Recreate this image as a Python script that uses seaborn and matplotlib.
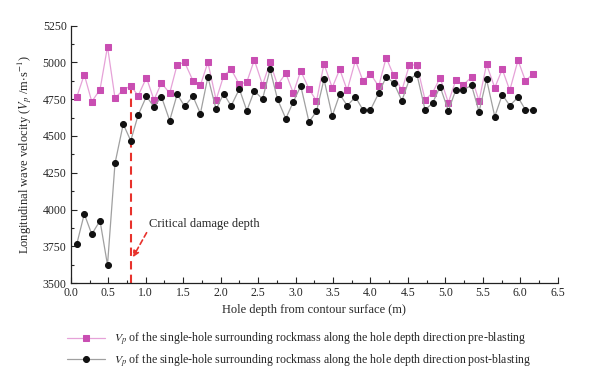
import matplotlib
matplotlib.use("Agg")
import matplotlib.pyplot as plt
import seaborn as sns
from matplotlib.ticker import MultipleLocator

# Hole depth positions (m)
depth = [0.08, 0.18, 0.28, 0.39, 0.49, 0.59, 0.70, 0.80, 0.90, 1.01,
         1.11, 1.21, 1.32, 1.42, 1.52, 1.63, 1.73, 1.83, 1.94, 2.04,
         2.14, 2.25, 2.35, 2.45, 2.56, 2.66, 2.76, 2.87, 2.97, 3.07,
         3.18, 3.28, 3.38, 3.49, 3.59, 3.69, 3.80, 3.90, 4.00, 4.11,
         4.21, 4.31, 4.42, 4.52, 4.62, 4.73, 4.83, 4.93, 5.04, 5.14,
         5.24, 5.35, 5.45, 5.55, 5.66, 5.76, 5.86, 5.97, 6.07, 6.17]

# Vp pre-blasting (m/s)
vp_pre = [4765, 4917, 4733, 4815, 5107, 4758, 4813, 4840, 4774, 4896,
          4745, 4860, 4790, 4985, 5000, 4876, 4844, 5000, 4745, 4908,
          4953, 4851, 4867, 5016, 4846, 5000, 4846, 4926, 4792, 4942,
          4819, 4738, 4989, 4828, 4953, 4810, 5014, 4874, 4923, 4837,
          5032, 4912, 4810, 4982, 4982, 4745, 4794, 4896, 4727, 4880,
          4849, 4899, 4738, 4987, 4828, 4953, 4810, 5014, 4874, 4923]

# Vp post-blasting (m/s)
vp_post = [3767, 3971, 3833, 3925, 3624, 4314, 4581, 4468, 4643, 4770,
           4697, 4767, 4605, 4783, 4702, 4770, 4652, 4901, 4681, 4788,
           4704, 4819, 4672, 4806, 4751, 4953, 4749, 4618, 4731, 4840,
           4595, 4668, 4885, 4636, 4783, 4706, 4765, 4677, 4677, 4790,
           4901, 4862, 4740, 4885, 4919, 4677, 4724, 4835, 4672, 4813,
           4813, 4844, 4665, 4885, 4632, 4781, 4706, 4763, 4677, 4677]

critical_depth = 0.8
critical_top = 4830
arrow_tip = (0.81, 3660)
arrow_start = (1.03, 3860)

x_ticks = [0.0, 0.5, 1.0, 1.5, 2.0, 2.5, 3.0, 3.5, 4.0, 4.5, 5.0, 5.5, 6.0, 6.5]
y_ticks = [3500, 3750, 4000, 4250, 4500, 4750, 5000, 5250]

sns.set_theme(style="ticks")
plt.rcParams['font.family'] = ['Liberation Serif', 'DejaVu Serif']
plt.rcParams['mathtext.fontset'] = 'stix'

fig = plt.figure(figsize=(6.0, 3.89), dpi=100)
ax = fig.add_axes([0.118, 0.2717, 0.8115, 0.6627])

pink_line = "#E6A2D8"
pink_mark = "#C94EB2"
black_line = "#A0A0A0"

sns.lineplot(x=depth, y=vp_pre, ax=ax, color=pink_line, linewidth=0.9,
             marker='s', markersize=4.3, markerfacecolor=pink_mark,
             markeredgecolor=pink_mark, label=r"$V_p$ of the single-hole surrounding rockmass along the hole depth direction pre-blasting")
sns.lineplot(x=depth, y=vp_post, ax=ax, color=black_line, linewidth=0.9,
             marker='o', markersize=4.3, markerfacecolor="#111111",
             markeredgecolor="#111111", label=r"$V_p$ of the single-hole surrounding rockmass along the hole depth direction post-blasting")

ax.plot([critical_depth, critical_depth], [3500, critical_top], color="#E8322C",
        linestyle=(0, (4, 2.5)), linewidth=1.5, zorder=1)
ax.annotate("", xy=arrow_tip, xytext=arrow_start,
            arrowprops=dict(arrowstyle="-|>", color="#E8322C", linestyle=(0, (3, 2)),
                            linewidth=1.2, mutation_scale=9))
ax.text(1.04, 3900, "Critical damage depth", fontsize=9, va='center', ha='left')

ax.set_xlim(0, 6.5)
ax.set_ylim(3500, 5250)
ax.set_xticks(x_ticks)
ax.set_xticklabels([f"{t:.1f}" for t in x_ticks])
ax.set_yticks(y_ticks)
ax.xaxis.set_minor_locator(MultipleLocator(0.25))
ax.yaxis.set_minor_locator(MultipleLocator(125))
ax.tick_params(axis='both', which='major', direction='in', length=4, width=0.8, labelsize=8.5, pad=3)
ax.tick_params(axis='both', which='minor', direction='in', length=2, width=0.8)
for s in ['top', 'right']:
    ax.spines[s].set_visible(False)
for s in ['left', 'bottom']:
    ax.spines[s].set_linewidth(0.9)
    ax.spines[s].set_color('#222222')

ax.set_xlabel("Hole depth from contour surface (m)", fontsize=9, labelpad=3)
ax.set_ylabel(r"Longitudinal wave velocity ($V_p$ /m$\cdot$s$^{-1}$)", fontsize=9, labelpad=6)

ax.legend_.remove()
handles, labels = ax.get_legend_handles_labels()
fig.legend(handles, labels, loc='upper left', bbox_to_anchor=(0.103, 0.163),
           frameon=False, fontsize=8.55, handlelength=3.2, handletextpad=0.8,
           labelspacing=0.4, borderaxespad=0)

fig.savefig("out.png", dpi=100)
